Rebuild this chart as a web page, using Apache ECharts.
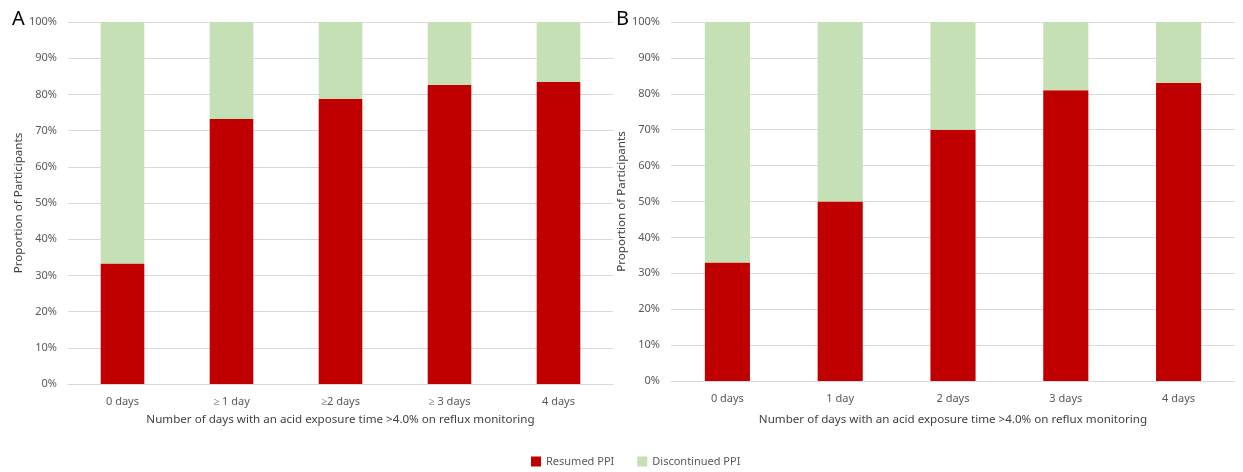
<!DOCTYPE html>
<html>
<head>
<meta charset="utf-8">
<script src="https://cdn.jsdelivr.net/npm/echarts@6/dist/echarts.min.js"></script>
<style>html,body{margin:0;padding:0;background:#fff;}#c{width:1243px;height:472px;}</style>
</head>
<body>
<div id="c"></div>
<script>
const categoriesA = ['0 days', '\u2265 1 day', '\u22652 days', '\u2265 3 days', '4 days'];
const categoriesB = ['0 days', '1 day', '2 days', '3 days', '4 days'];
const resumedA = [33.3, 73.2, 78.7, 82.6, 83.4];
const discontinuedA = [66.7, 26.8, 21.3, 17.4, 16.6];
const resumedB = [33, 50, 70, 81, 83];
const discontinuedB = [67, 50, 30, 19, 17];
const yTicks = [0, 10, 20, 30, 40, 50, 60, 70, 80, 90, 100];

const RED = '#C00000', GREEN = '#C5E0B4';
const FONT = 'Noto Sans';
const lab = {color: '#595959', fontFamily: FONT, fontSize: 11};
const xName = 'Number of days with an acid exposure time >4.0% on reflux monitoring';

function xAxis(idx, cats, gap) {
  return {
    type: 'category', gridIndex: idx, data: cats,
    axisLine: {show: true, lineStyle: {color: '#d9d9d9', width: 1}},
    axisTick: {show: false},
    axisLabel: Object.assign({margin: 12}, lab),
    name: xName, nameLocation: 'middle', nameGap: gap,
    nameTextStyle: {color: '#404040', fontFamily: FONT, fontSize: 11.6}
  };
}
function yAxis(idx) {
  return {
    type: 'value', gridIndex: idx, min: yTicks[0], max: yTicks[yTicks.length - 1], interval: 10,
    axisLabel: Object.assign({formatter: '{value}%', margin: 11}, lab),
    splitLine: {lineStyle: {color: '#d9d9d9', width: 1}},
    axisLine: {show: false}, axisTick: {show: false},
    name: 'Proportion of Participants', nameLocation: 'middle', nameGap: 42,
    nameTextStyle: {color: '#404040', fontFamily: FONT, fontSize: 11.6}
  };
}
function bars(name, data, color, idx) {
  return {
    name: name, type: 'bar', stack: 's' + idx, xAxisIndex: idx, yAxisIndex: idx,
    data: data, barWidth: '40%', itemStyle: {color: color}, emphasis: {disabled: true}
  };
}

const chart = echarts.init(document.getElementById('c'), null, {renderer: 'canvas'});
chart.setOption({
  animation: false,
  backgroundColor: '#fff',
  title: [
    {text: 'A', left: 7, top: 4, textStyle: {fontFamily: FONT, fontSize: 20, fontWeight: 'normal', color: '#000'}},
    {text: 'B', left: 611, top: 4, textStyle: {fontFamily: FONT, fontSize: 20, fontWeight: 'normal', color: '#000'}}
  ],
  grid: [
    {left: 68, right: 630, top: 22, bottom: 88},
    {left: 671, right: 8, top: 22, bottom: 91}
  ],
  legend: {
    data: ['Resumed PPI', 'Discontinued PPI'], left: 526, top: 451,
    itemWidth: 10, itemHeight: 10, itemGap: 23, icon: 'rect',
    textStyle: {color: '#595959', fontFamily: FONT, fontSize: 11}
  },
  xAxis: [xAxis(0, categoriesA, 30), xAxis(1, categoriesB, 33)],
  yAxis: [yAxis(0), yAxis(1)],
  series: [
    bars('Resumed PPI', resumedA, RED, 0),
    bars('Discontinued PPI', discontinuedA, GREEN, 0),
    bars('Resumed PPI', resumedB, RED, 1),
    bars('Discontinued PPI', discontinuedB, GREEN, 1)
  ]
});
</script>
</body>
</html>
